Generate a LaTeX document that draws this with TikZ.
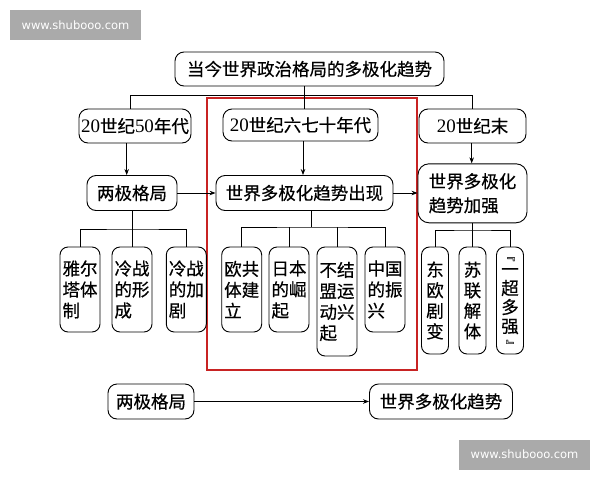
\documentclass[tikz,border=0pt]{standalone}
\usepackage{fontspec}
\setmainfont{Liberation Serif}
\newfontfamily\cjk[FakeBold=0.4]{Noto Sans CJK SC}
\newfontfamily\wmfont{DejaVu Sans}
\usetikzlibrary{arrows.meta}
\definecolor{redbox}{RGB}{200,35,35}
\definecolor{wmgray}{RGB}{170,170,170}
\newcommand{\dg}[1]{{\rmfamily\fontsize{19}{24}\selectfont #1}}
\newcommand{\vbr}[1]{{\fontsize{11}{11}\selectfont\rotatebox[origin=c]{-90}{#1}}}
\begin{document}
\begin{tikzpicture}[x=1pt,y=-1pt,
  box/.style={draw=black, line width=0.9pt, rounded corners=9pt, inner sep=1pt,
    font=\cjk\fontsize{17.5}{24}\selectfont, align=left},
  vbox/.style={box, rounded corners=8pt, font=\cjk\fontsize{17.5}{21}\selectfont},
  arr/.style={-{Stealth[length=6pt,width=4.5pt]}, line width=0.8pt},
  ln/.style={line width=0.8pt},
  wm/.style={fill=wmgray, text=white, inner sep=0pt, minimum width=131pt, minimum height=30pt,
    font=\wmfont\fontsize{11.5}{12}\selectfont}
]
\useasboundingbox (0,0) rectangle (600,480);
\fill[white] (0,0) rectangle (600,480);
% watermarks
\node[wm] (wm1) at (75.5,25) {www.shubooo.com};
\node[wm] (wm2) at (524.5,454.5) {www.shubooo.com};
% red frame
\node[draw=redbox, line width=1.6pt, minimum width=210pt, minimum height=272pt, inner sep=0pt] (redframe) at (312,234) {};
% top
\node[box, minimum width=269pt, minimum height=34pt] (title) at (309.5,69) {当今世界政治格局的多极化趋势};
\node[box, minimum width=112pt, minimum height=34pt] (e50) at (135,126) {\dg{20}世纪\dg{50}年代};
\node[box, minimum width=155pt, minimum height=32pt] (e70) at (300.5,125) {\dg{20}世纪六七十年代};
\node[box, minimum width=107pt, minimum height=34pt] (emo) at (472.5,126) {\dg{20}世纪末};
% row 3
\node[box, minimum width=90pt, minimum height=35pt] (liangji) at (132,193) {两极格局};
\node[box, minimum width=177pt, minimum height=35pt] (chuxian) at (304.5,193) {世界多极化趋势出现};
\node[box, minimum width=109pt, minimum height=59pt, rounded corners=11pt] (jiaqiang) at (472.5,193.3) {世界多极化\\趋势加强};
% left children
\node[vbox, minimum width=40pt, minimum height=85pt] (c1) at (80,289.5) {雅尔\\塔体\\制};
\node[vbox, minimum width=40pt, minimum height=85pt] (c2) at (132,289.5) {冷战\\的形\\成};
\node[vbox, minimum width=40pt, minimum height=85pt] (c3) at (186.3,289.5) {冷战\\的加\\剧};
% middle children
\node[vbox, minimum width=40pt, minimum height=85pt] (d1) at (241.7,289.5) {欧共\\体建\\立};
\node[vbox, minimum width=40pt, minimum height=85pt] (d2) at (289,289.5) {日本\\的崛\\起};
\node[vbox, minimum width=40pt, minimum height=109pt] (d3) at (337,301.5) {不结\\盟运\\动兴\\起};
\node[vbox, minimum width=40pt, minimum height=85pt] (d4) at (385,289.5) {中国\\的振\\兴};
% right children
\node[vbox, minimum width=27pt, minimum height=107pt, font=\cjk\fontsize{17.5}{20.6}\selectfont] (f1) at (435,300.5) {东\\欧\\剧\\变};
\node[vbox, minimum width=27pt, minimum height=107pt, font=\cjk\fontsize{17.5}{20.6}\selectfont] (f2) at (472.5,300.5) {苏\\联\\解\\体};
\node[vbox, minimum width=27pt, minimum height=107pt, font=\cjk\fontsize{17.5}{21}\selectfont, align=center] (f3) at (510,300.5) {\vbr{『}\\[-6pt]一\\[-2pt]超\\[-2pt]多\\[-2pt]强\\[-6pt]\vbr{』}};
% bottom
\node[box, minimum width=86pt, minimum height=35pt] (b1) at (151,401.5) {两极格局};
\node[box, minimum width=143pt, minimum height=35pt] (b2) at (441,401.5) {世界多极化趋势};
% top connectors
\coordinate (tl) at (130,95);
\coordinate (tm) at (304,95);
\coordinate (tr) at (472,95);
\draw[ln] (tm |- title.south) -- (tm |- e70.north);
\draw[ln] (tl |- e50.north) -- (tl) -- (tr) -- (tr |- emo.north);
% vertical arrows
\coordinate (a1) at (126.7,0);
\coordinate (a2) at (303,0);
\coordinate (a3) at (471.7,0);
\draw[arr] (a1 |- e50.south) -- (a1 |- liangji.north);
\draw[arr] (a2 |- e70.south) -- (a2 |- chuxian.north);
\draw[arr] (a3 |- emo.south) -- (a3 |- jiaqiang.north);
% horizontal arrows
\draw[arr] (liangji.east) -- (chuxian.west);
\draw[arr] (chuxian.east) -- (chuxian.east -| jiaqiang.west);
\draw[arr] (b1.east) -- (b2.west);
% branches
\coordinate (lb) at (132,229);
\draw[ln] (liangji.south) -- (lb);
\draw[ln] (c1.north) |- (lb) -| (c3.north);
\draw[ln] (c2.north) -- (c2.north |- lb);
\coordinate (mb) at (311.7,227);
\draw[ln] (mb |- chuxian.south) -- (mb);
\draw[ln] (d1.north) |- (mb) -| (d4.north);
\draw[ln] (d2.north) -- (d2.north |- mb);
\draw[ln] (d3.north) -- (d3.north |- mb);
\coordinate (rb) at (472.5,230);
\draw[ln] (jiaqiang.south) -- (rb);
\draw[ln] (f1.north) |- (rb) -| (f3.north);
\draw[ln] (f2.north) -- (f2.north |- rb);
\end{tikzpicture}
\end{document}
